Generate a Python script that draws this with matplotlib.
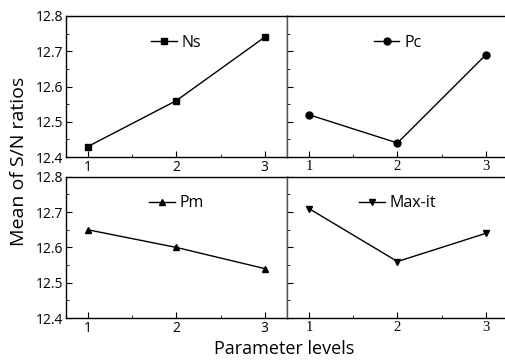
import matplotlib.pyplot as plt
from matplotlib.ticker import MultipleLocator

# Taguchi main-effect data (mean of S/N ratios per level)
levels = [1, 2, 3]
ns = [12.43, 12.56, 12.74]
pc = [12.52, 12.44, 12.69]
pm = [12.65, 12.60, 12.54]
max_it = [12.71, 12.56, 12.64]

names = ['Ns', 'Pc', 'Pm', 'Max-it']
series = [ns, pc, pm, max_it]
markers = ['s', 'o', '^', 'v']
xlabels = ['1', '2', '3']
ylabels = ['12.4', '12.5', '12.6', '12.7', '12.8']

plt.rcParams['font.family'] = ['Open Sans', 'DejaVu Sans']

fig = plt.figure(figsize=(5.06, 3.62), dpi=100)

#axes boxes [left, bottom, width, height] in figure fractions
boxes = [[0.130, 0.566, 0.437, 0.390],
         [0.567, 0.566, 0.437, 0.390],
         [0.130, 0.1215, 0.437, 0.390],
         [0.567, 0.1215, 0.437, 0.390]]

for i in range(4):
    ax = fig.add_axes(boxes[i])
    ax.plot(levels, series[i], color='black', lw=1, marker=markers[i],
            markersize=5, label=names[i])
    ax.set_xlim(0.75, 3.25)
    ax.set_ylim(12.4, 12.8)
    ax.xaxis.set_minor_locator(MultipleLocator(0.5))
    ax.yaxis.set_minor_locator(MultipleLocator(0.05))
    ax.tick_params(which='both', direction='in', top=False, right=False)
    ax.tick_params(which='major', length=4, pad=2)
    ax.tick_params(which='minor', length=2)
    ax.set_yticks([12.4, 12.5, 12.6, 12.7, 12.8])
    ax.set_xticks(levels)
    for s in ax.spines.values():
        s.set_linewidth(1)
    if i in (1, 3):
        ax.set_yticklabels([])
        ax.spines['left'].set_color('#555555')
        ax.set_xticklabels(xlabels, fontfamily='Liberation Serif', fontsize=10.5)
    else:
        ax.set_yticklabels(ylabels, fontsize=10)
        ax.set_xticklabels(xlabels, fontsize=10)
    ax.legend(loc='upper center', frameon=False, fontsize=11.5, handlelength=1.6,
              handletextpad=0.3, bbox_to_anchor=(0.5, 0.97))

fig.text(0.0375, 0.555, 'Mean of S/N ratios', rotation=90, ha='center', va='center', fontsize=14)
fig.text(0.561, 0.035, 'Parameter levels', ha='center', va='center', fontsize=13)

plt.savefig('out.png', dpi=100)
